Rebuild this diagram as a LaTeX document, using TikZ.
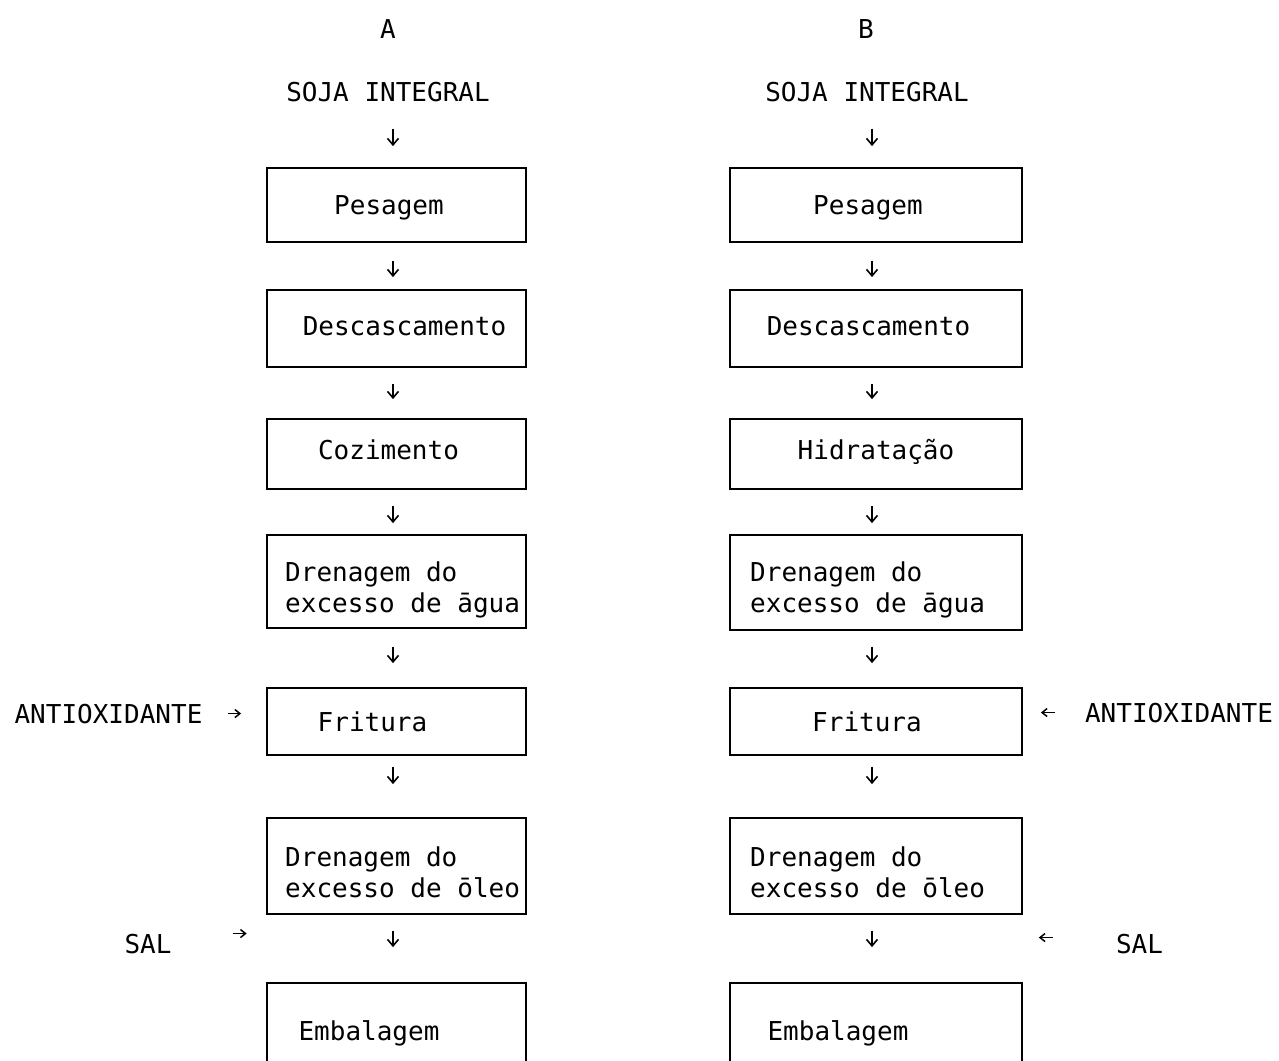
\documentclass[tikz,border=0pt]{standalone}
\usepackage{fontspec}
\newfontfamily\typefont{DejaVu Sans Mono}
\usetikzlibrary{arrows.meta,calc}
% vertical step arrow: from below node #1 to above node #4, on the x of coordinate #2
\newcommand\flowstep[5]{\draw[flow] ($(#1.south -| #2)+(0,#3)$) -- ($(#4.north -| #2)+(0,-#5)$);}
\begin{document}
\begin{tikzpicture}[x=1pt,y=-1pt,
  box/.style={draw, line width=1.8pt, inner sep=0pt},
  boxA/.style={box, minimum width=259pt},
  boxB/.style={box, minimum width=292pt},
  txt/.style={font=\typefont\fontsize{26}{31}\selectfont, inner sep=0pt, anchor=base},
  txtl/.style={txt, anchor=base west},
  flow/.style={line width=1.6pt, -{Straight Barb[length=6.5pt,width=11pt]}},
  sideflow/.style={line width=1.5pt, -{Straight Barb[length=5pt,width=8pt]}},
]
\clip (0,0) rectangle (1279,1060);
\fill[white] (0,0) rectangle (1279,1060);

\coordinate (ax) at (393,0);
\coordinate (bx) at (872,0);

% column headings
\node[txt] (hA) at (388,38) {A};
\node[txt] (hB) at (866,38) {B};
\node[txt] (sojaA) at (388,101) {SOJA INTEGRAL};
\node[txt] (sojaB) at (867,101) {SOJA INTEGRAL};

% ---- column A boxes
\node[boxA, minimum height=74pt] (pesA) at (396.5,205) {};
\node[boxA, minimum height=77pt] (desA) at (396.5,328.5) {};
\node[boxA, minimum height=70pt] (cozA) at (396.5,454) {};
\node[boxA, minimum height=93pt] (draA) at (396.5,581.5) {};
\node[boxA, minimum height=67pt] (friA) at (396.5,721.5) {};
\node[boxA, minimum height=96pt] (droA) at (396.5,866) {};
\node[boxA, minimum height=97pt] (embA) at (396.5,1031.5) {};

\node[txt] (pesAt) at (389,214) {Pesagem};
\node[txt] (desAt) at (404.5,335) {Descascamento};
\node[txt] (cozAt) at (388.5,459) {Cozimento};
\node[txtl] (draAt1) at (285,581) {Drenagem do};
\node[txtl] (draAt2) at (285,612) {excesso de āgua};
\node[txt] (friAt) at (372.5,731) {Fritura};
\node[txtl] (droAt1) at (285,866) {Drenagem do};
\node[txtl] (droAt2) at (285,897) {excesso de ōleo};
\node[txt] (embAt) at (369,1040) {Embalagem};

% ---- column B boxes
\node[boxB, minimum height=74pt] (pesB) at (876,205) {};
\node[boxB, minimum height=77pt] (desB) at (876,328.5) {};
\node[boxB, minimum height=70pt] (hidB) at (876,454) {};
\node[boxB, minimum height=95pt] (draB) at (876,582.5) {};
\node[boxB, minimum height=67pt] (friB) at (876,721.5) {};
\node[boxB, minimum height=96pt] (droB) at (876,866) {};
\node[boxB, minimum height=97pt] (embB) at (876,1031.5) {};

\node[txt] (pesBt) at (868,214) {Pesagem};
\node[txt] (desBt) at (868.5,335) {Descascamento};
\node[txt] (hidBt) at (876,459) {Hidratação};
\node[txtl] (draBt1) at (750,581) {Drenagem do};
\node[txtl] (draBt2) at (750,612) {excesso de āgua};
\node[txt] (friBt) at (867,731) {Fritura};
\node[txtl] (droBt1) at (750,866) {Drenagem do};
\node[txtl] (droBt2) at (750,897) {excesso de ōleo};
\node[txt] (embBt) at (838,1040) {Embalagem};

% side inputs
\node[txt] (antA) at (108.5,723) {ANTIOXIDANTE};
\node[txt] (salA) at (148,953) {SAL};
\node[txt] (antB) at (1179,722) {ANTIOXIDANTE};
\node[txt] (salB) at (1139.5,953) {SAL};

% ---- flow arrows, column A
\flowstep{sojaA}{ax}{27}{pesA}{21}
\flowstep{pesA}{ax}{18}{desA}{12}
\flowstep{desA}{ax}{16}{cozA}{19}
\flowstep{cozA}{ax}{16}{draA}{11}
\flowstep{draA}{ax}{18}{friA}{24}
\flowstep{friA}{ax}{11}{droA}{33}
\flowstep{droA}{ax}{16}{embA}{35}

% ---- flow arrows, column B
\flowstep{sojaB}{bx}{27}{pesB}{21}
\flowstep{pesB}{bx}{18}{desB}{12}
\flowstep{desB}{bx}{16}{hidB}{19}
\flowstep{hidB}{bx}{16}{draB}{11}
\flowstep{draB}{bx}{16}{friB}{24}
\flowstep{friB}{bx}{11}{droB}{33}
\flowstep{droB}{bx}{16}{embB}{35}

% ---- side input arrows
\draw[sideflow, shorten <=25pt, shorten >=25pt] (antA.east) -- (antA.east -| friA.west);
\draw[sideflow] ($(salA.east)+(61,-10)$) -- ++(14,0);
\draw[sideflow, shorten <=30pt, shorten >=18pt] (antB.west) -- (antB.west -| friB.east);
\draw[sideflow] ($(salB.west)+(-63,-6)$) -- ++(-14,0);
\end{tikzpicture}
\end{document}
